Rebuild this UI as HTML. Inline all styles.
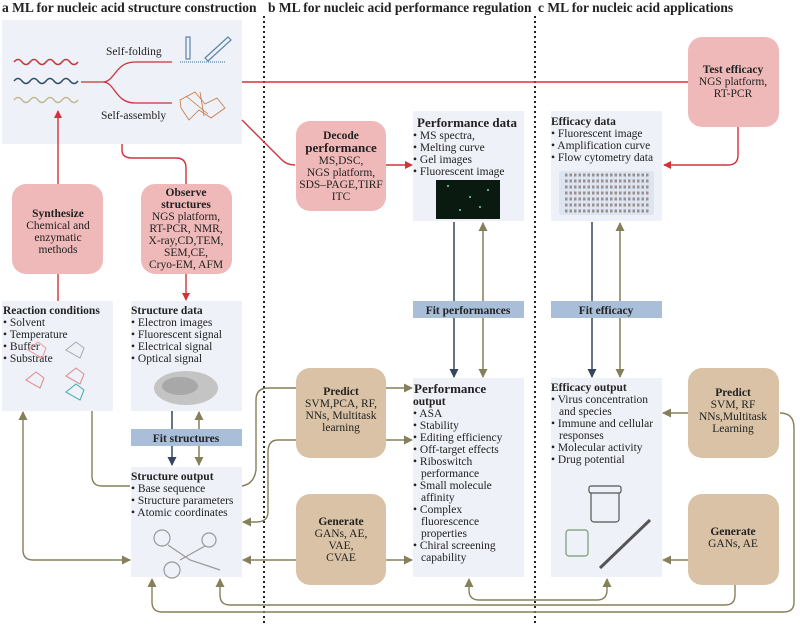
<!DOCTYPE html>
<html><head><meta charset="utf-8"><style>
body{margin:0;background:#fff}
svg{display:block;font-family:"Liberation Serif",serif}
.t{font-size:11.5px;fill:#222}
.b{font-weight:bold}
.h{font-size:13.5px;font-weight:bold;fill:#222}
</style></head><body>
<svg width="800" height="624" viewBox="0 0 800 624" xmlns="http://www.w3.org/2000/svg">
<defs>
<marker id="ar" markerWidth="8" markerHeight="8" refX="7" refY="4" orient="auto" markerUnits="userSpaceOnUse"><path d="M0,0L8,4L0,8z" fill="#d0343a"/></marker>
<marker id="at" markerWidth="9" markerHeight="9" refX="8" refY="4.5" orient="auto-start-reverse" markerUnits="userSpaceOnUse"><path d="M0,0L9,4.5L0,9z" fill="#857f5a"/></marker>
<marker id="ab" markerWidth="9" markerHeight="9" refX="8" refY="4.5" orient="auto" markerUnits="userSpaceOnUse"><path d="M0,0L9,4.5L0,9z" fill="#35475e"/></marker>
</defs>
<text x="2" y="12" class="h">a ML for nucleic acid structure construction</text>
<text x="268" y="12" class="h">b ML for nucleic acid performance regulation</text>
<text x="538" y="12" class="h">c  ML for nucleic acid applications</text>
<line x1="264" y1="16" x2="264" y2="624" stroke="#222" stroke-width="2" stroke-dasharray="2,3"/>
<line x1="535" y1="16" x2="535" y2="624" stroke="#222" stroke-width="2" stroke-dasharray="2,3"/>

<g fill="#eef1f7">
<rect x="2" y="20" width="240" height="124"/>
<rect x="2" y="301" width="111" height="110"/>
<rect x="131" y="301" width="111" height="110"/>
<rect x="131" y="467" width="111" height="110"/>
<rect x="413" y="111" width="111" height="110"/>
<rect x="551" y="111" width="111" height="110"/>
<rect x="413" y="378" width="111" height="199"/>
<rect x="551" y="378" width="111" height="199"/>
</g>
<g fill="#f0b9b9">
<rect x="12" y="184" width="91" height="90" rx="14"/>
<rect x="141" y="184" width="91" height="90" rx="14"/>
<rect x="296" y="121" width="90" height="90" rx="14"/>
<rect x="688" y="37" width="91" height="90" rx="14"/>
</g>
<g fill="#d9c2a5">
<rect x="296" y="368" width="90" height="90" rx="14"/>
<rect x="296" y="494" width="90" height="91" rx="14"/>
<rect x="688" y="368" width="91" height="90" rx="14"/>
<rect x="688" y="494" width="91" height="91" rx="14"/>
</g>

<path d="M14,62 q4,-5 8,0 t8,0 t8,0 t8,0 t8,0 t8,0 t8,0 t8,0" fill="none" stroke="#c8333a" stroke-width="1.5"/>
<path d="M14,81 q4,-5 8,0 t8,0 t8,0 t8,0 t8,0 t8,0 t8,0 t8,0" fill="none" stroke="#2d4e66" stroke-width="1.5"/>
<path d="M14,100 q4,-5 8,0 t8,0 t8,0 t8,0 t8,0 t8,0 t8,0 t8,0" fill="none" stroke="#c2b894" stroke-width="1.5"/>
<path d="M81,82 H103 C115,82 115,62 135,62 H172 M103,82 C115,82 115,103 135,103 H172" fill="none" stroke="#c8333a" stroke-width="1.3"/>
<text x="106" y="55" class="t">Self-folding</text>
<text x="101" y="119" class="t">Self-assembly</text>
<g stroke="#5a86a8" fill="none" stroke-width="1.2"><rect x="186" y="37" width="4" height="22"/><line x1="180" y1="62" x2="225" y2="62" stroke-dasharray="1,1"/><path d="M205,58 L228,37 l3,3 L208,61z"/></g>
<g stroke="#c8743e" fill="none" stroke-width="0.8"><path d="M180,100 l15,-8 l10,12 l12,-6 l8,10 l-14,10 l-12,-8 l-10,10 l-8,-12z M186,96 l22,18 M200,92 l4,24"/></g>

<g stroke="#d0343a" stroke-width="1.4" fill="none">
<line x1="242" y1="82" x2="688" y2="82"/>
<path d="M242,120 L282,160 Q287,165 295,165"/>
<line x1="386" y1="165" x2="412" y2="165" marker-end="url(#ar)"/>
<path d="M738,127 V155 Q738,165 728,165 H664" marker-end="url(#ar)"/>
<line x1="58" y1="184" x2="58" y2="111" marker-end="url(#ar)"/>
<line x1="58" y1="274" x2="58" y2="301"/>
<path d="M122,144 V150 Q122,158 132,158 H176 Q186,158 186,168 V184"/>
<line x1="186" y1="274" x2="186" y2="300" marker-end="url(#ar)"/>
</g>

<g stroke-width="1.5" fill="none">
<line x1="172" y1="411" x2="172" y2="465" stroke="#35475e" marker-end="url(#ab)"/>
<line x1="199" y1="412" x2="199" y2="465" stroke="#857f5a" marker-start="url(#at)" marker-end="url(#at)"/>
<line x1="454" y1="222" x2="454" y2="377" stroke="#35475e" marker-end="url(#ab)"/>
<line x1="483" y1="223" x2="483" y2="377" stroke="#857f5a" marker-start="url(#at)" marker-end="url(#at)"/>
<line x1="592" y1="222" x2="592" y2="377" stroke="#35475e" marker-end="url(#ab)"/>
<line x1="620" y1="223" x2="620" y2="377" stroke="#857f5a" marker-start="url(#at)" marker-end="url(#at)"/>
</g>
<g fill="#a9bfd9">
<rect x="131" y="429" width="111" height="17"/>
<rect x="413" y="301" width="111" height="17"/>
<rect x="551" y="301" width="111" height="17"/>
</g>
<g stroke="#857f5a" stroke-width="1.4" fill="none">
<path d="M92,411 V476 Q92,486 102,486 H130"/>
<path d="M23,412 V550 Q23,560 33,560 H130" marker-start="url(#at)" marker-end="url(#at)"/>
<path d="M242,486 Q254,484 256,470 V400 Q256,388 268,388 H296"/>
<path d="M296,440 H278 Q268,440 268,452 V512 Q268,522 256,522 H243" marker-end="url(#at)"/>
<line x1="386" y1="388" x2="412" y2="388" marker-end="url(#at)"/>
<line x1="386" y1="440" x2="412" y2="440" marker-end="url(#at)"/>
<line x1="296" y1="560" x2="243" y2="560" marker-end="url(#at)"/>
<line x1="386" y1="560" x2="412" y2="560" marker-end="url(#at)"/>
<line x1="688" y1="413" x2="663" y2="413" marker-end="url(#at)"/>
<line x1="688" y1="560" x2="663" y2="560" marker-end="url(#at)"/>
<path d="M469,579 V590 Q469,600 479,600 H597 Q607,600 607,590 V579" marker-start="url(#at)" marker-end="url(#at)"/>
<path d="M735,585 V595 Q735,605 725,605 H230 Q220,605 220,595 V579" marker-end="url(#at)"/>
<path d="M780,413 Q794,413 794,428 V602 Q794,612 784,612 H162 Q152,612 152,602 V579" marker-end="url(#at)"/>
</g>

<g class="t" text-anchor="middle">
<text x="58" y="217" class="b">Synthesize</text>
<text x="58" y="229">Chemical and</text><text x="58" y="241">enzymatic</text><text x="58" y="253">methods</text>
<text x="186" y="196" class="b">Observe</text><text x="186" y="208" class="b">structures</text>
<text x="186" y="220">NGS platform,</text><text x="186" y="232">RT-PCR, NMR,</text><text x="186" y="244">X-ray,CD,TEM,</text><text x="186" y="256">SEM,CE,</text><text x="186" y="268">Cryo-EM, AFM</text>
<text x="341" y="139" class="b">Decode</text><text x="341" y="152" class="b" style="font-size:13px">performance</text>
<text x="341" y="164">MS,DSC,</text><text x="341" y="176">NGS platform,</text><text x="341" y="188">SDS–PAGE,TIRF</text><text x="341" y="200">ITC</text>
<text x="733" y="73" class="b">Test efficacy</text><text x="733" y="85">NGS platform,</text><text x="733" y="97">RT-PCR</text>
<text x="341" y="395" class="b">Predict</text><text x="341" y="407">SVM,PCA, RF,</text><text x="341" y="419">NNs, Multitask</text><text x="341" y="431">learning</text>
<text x="341" y="525" class="b">Generate</text><text x="341" y="537">GANs, AE,</text><text x="341" y="549">VAE,</text><text x="341" y="561">CVAE</text>
<text x="733" y="396" class="b">Predict</text><text x="733" y="408">SVM, RF</text><text x="733" y="420">NNs,Multitask</text><text x="733" y="432">Learning</text>
<text x="733" y="535" class="b">Generate</text><text x="733" y="547">GANs, AE</text>
<text x="186" y="442" class="b">Fit structures</text>
<text x="468" y="314" class="b">Fit performances</text>
<text x="606" y="314" class="b">Fit efficacy</text>
</g>

<g class="t">
<text x="3" y="314" class="b">Reaction conditions</text>
<text x="3" y="326">• Solvent</text><text x="3" y="338">• Temperature</text><text x="3" y="350">• Buffer</text><text x="3" y="362">• Substrate</text>
<text x="131" y="314" class="b">Structure data</text>
<text x="131" y="326">• Electron images</text><text x="131" y="338">• Fluorescent signal</text><text x="131" y="350">• Electrical signal</text><text x="131" y="362">• Optical signal</text>
<text x="131" y="480" class="b">Structure output</text>
<text x="131" y="492">• Base sequence</text><text x="131" y="504">• Structure parameters</text><text x="131" y="516">• Atomic coordinates</text>
<text x="417" y="127" class="b" style="font-size:13px">Performance data</text>
<text x="413" y="139">• MS spectra,</text><text x="413" y="151">• Melting curve</text><text x="413" y="163">• Gel images</text><text x="413" y="175">• Fluorescent image</text>
<text x="551" y="125" class="b">Efficacy data</text>
<text x="551" y="137">• Fluorescent image</text><text x="551" y="149">• Amplification curve</text><text x="551" y="161">• Flow cytometry data</text>
<text x="414" y="393" class="b" style="font-size:13px">Performance</text>
<text x="413" y="405" class="b">output</text>
<text x="413" y="417">• ASA</text><text x="413" y="429">• Stability</text><text x="413" y="441">• Editing efficiency</text><text x="413" y="453">• Off-target effects</text><text x="413" y="465">• Riboswitch</text><text x="421" y="477">performance</text><text x="413" y="489">• Small molecule</text><text x="421" y="501">affinity</text><text x="413" y="513">• Complex</text><text x="421" y="525">fluorescence</text><text x="421" y="537">properties</text><text x="413" y="549">• Chiral screening</text><text x="421" y="561">capability</text>
<text x="551" y="391" class="b">Efficacy output</text>
<text x="551" y="403">• Virus concentration</text><text x="559" y="415">and species</text><text x="551" y="427">• Immune and cellular</text><text x="559" y="439">responses</text><text x="551" y="451">• Molecular activity</text><text x="551" y="463">• Drug potential</text>
</g>

<rect x="436" y="180" width="64" height="39" fill="#0b1a10"/>
<g fill="#7fd6c8"><circle cx="448" cy="186" r="1"/><circle cx="470" cy="197" r="1"/><circle cx="488" cy="190" r="1"/><circle cx="460" cy="210" r="1"/><circle cx="480" cy="207" r="1"/></g>
<rect x="559" y="171" width="95" height="44" rx="3" fill="#dde5f1"/>
<g fill="none" stroke="#9a8e8e" stroke-width="3" stroke-dasharray="2.5,2">
<path d="M565,175 h84 M565,181 h84 M565,187 h84 M565,193 h84 M565,199 h84 M565,205 h84 M565,211 h84"/>
</g>
<g stroke="#d88" stroke-width="1" fill="none"><path d="M26,380 l10,-8 l8,6 l-4,10z M66,376 l10,-8 l8,6 l-4,10z"/></g>
<g stroke="#aaa" stroke-width="1" fill="none"><path d="M66,350 l10,-8 l8,6 l-4,10z"/></g>
<g stroke="#4aa" stroke-width="1" fill="none"><path d="M66,392 l10,-8 l8,6 l-4,10z"/></g>
<g stroke="#e99" stroke-width="1" fill="none"><path d="M28,350 l10,-8 l8,6 l-4,10z"/></g>
<ellipse cx="186" cy="388" rx="32" ry="17" fill="#c4c4c4"/>
<ellipse cx="180" cy="386" rx="18" ry="9" fill="#a8a8a8"/>
<g fill="none" stroke="#999" stroke-width="1.2"><circle cx="162" cy="538" r="8"/><circle cx="172" cy="570" r="8"/><circle cx="209" cy="540" r="7"/><path d="M168,545 L190,560 L220,570 M180,560 L205,546"/></g>
<g fill="#eef1f7" stroke="#555" stroke-width="1.2"><rect x="591" y="488" width="28" height="34" rx="3"/><rect x="589" y="486" width="32" height="7" rx="2"/></g>
<g fill="#eef1f7" stroke="#7a9a70" stroke-width="1.2"><rect x="566" y="530" width="22" height="26" rx="3"/></g>
<line x1="600" y1="568" x2="650" y2="520" stroke="#555" stroke-width="3"/>
</svg>
</body></html>
